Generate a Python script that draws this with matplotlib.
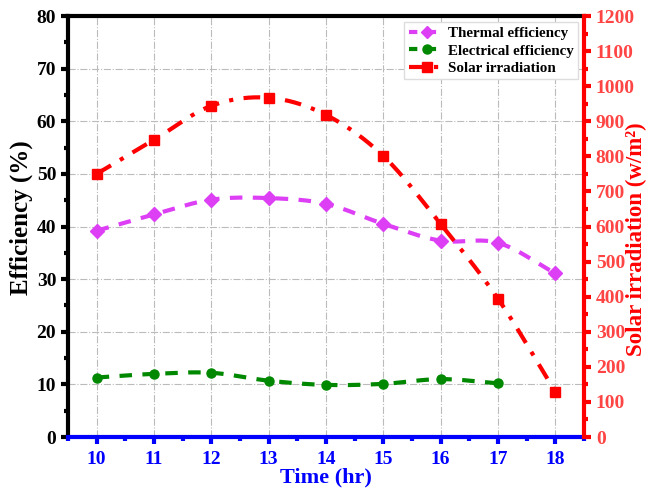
import numpy as np
import matplotlib
matplotlib.use("Agg")
import matplotlib.pyplot as plt
from matplotlib.ticker import MultipleLocator
from matplotlib.lines import Line2D

hours = [10, 11, 12, 13, 14, 15, 16, 17, 18]
thermal = [39.2, 42.3, 45.1, 45.4, 44.3, 40.5, 37.3, 36.9, 31.1]
elec_hours = [10, 11, 12, 13, 14, 15, 16, 17]
electrical = [11.3, 12.0, 12.2, 10.7, 9.9, 10.1, 11.0, 10.2]
solar = [750, 847, 944, 967, 918, 801, 607, 394, 129]

plt.rcParams['font.family'] = ['Liberation Serif', 'DejaVu Serif']
plt.rcParams['font.weight'] = 'bold'


def smooth(x, y, n=20):
    # Catmull-Rom spline through the given points, for drawing the curve only
    x = np.asarray(x, float)
    y = np.asarray(y, float)
    px = np.concatenate([[2 * x[0] - x[1]], x, [2 * x[-1] - x[-2]]])
    py = np.concatenate([[2 * y[0] - y[1]], y, [2 * y[-1] - y[-2]]])
    xs, ys = [], []
    t = np.linspace(0, 1, n, endpoint=False)
    for i in range(1, len(px) - 2):
        for arr, out in ((px, xs), (py, ys)):
            p0, p1, p2, p3 = arr[i - 1], arr[i], arr[i + 1], arr[i + 2]
            out.extend(0.5 * ((2 * p1) + (-p0 + p2) * t
                              + (2 * p0 - 5 * p1 + 4 * p2 - p3) * t ** 2
                              + (-p0 + 3 * p1 - 3 * p2 + p3) * t ** 3))
    xs.append(x[-1]); ys.append(y[-1])
    return np.array(xs), np.array(ys)


fig = plt.figure(figsize=(6.51, 4.91), dpi=100)
ax = fig.add_axes([68 / 651, 1 - 437 / 491, (584 - 68) / 651, (437 - 16) / 491])
ax2 = ax.twinx()

mag = '#DD3FF5'
grn = '#008800'
red = '#FF0000'

sx, sy = smooth(hours, thermal)
ax.plot(sx, sy, color=mag, lw=3, ls=(0, (3, 2.5)), zorder=3)
ax.plot(hours, thermal, ls='none', marker='D', ms=7, color=mag, zorder=4)
sx, sy = smooth(elec_hours, electrical)
ax.plot(sx, sy, color=grn, lw=3, ls=(0, (3, 2.5)), zorder=3)
ax.plot(elec_hours, electrical, ls='none', marker='o', ms=6.5, color=grn, zorder=4)
sx, sy = smooth(hours, solar)
ax2.plot(sx, sy, color=red, lw=3, ls=(0, (4, 2.5, 1, 2.5)), zorder=3)
ax2.plot(hours, solar, ls='none', marker='s', ms=7, color=red, zorder=4)

handles = [
    Line2D([], [], color=mag, lw=3, ls=(0, (2, 2.5)), marker='D', ms=6.5),
    Line2D([], [], color=grn, lw=3, ls=(0, (2, 2.5)), marker='o', ms=6.5),
    Line2D([], [], color=red, lw=3, ls=(0, (4, 2, 1, 2)), marker='s', ms=6.5),
]
leg = ax2.legend(handles, ['Thermal efficiency', 'Electrical efficiency', 'Solar irradiation'],
                 loc='upper right', bbox_to_anchor=(0.988, 0.985), fancybox=False,
                 framealpha=1, edgecolor='#dddddd', prop={'weight': 'bold', 'size': 10.8},
                 handlelength=2.4, handletextpad=0.2, borderpad=0.3, labelspacing=0.25,
                 borderaxespad=0.0)

ax.set_xlim(9.5, 18.5)
ax.set_ylim(0, 80)
ax2.set_ylim(0, 1200)
ax.set_xticks(hours)
ax.xaxis.set_minor_locator(MultipleLocator(0.5))
ax.yaxis.set_major_locator(MultipleLocator(10))
ax.yaxis.set_minor_locator(MultipleLocator(5))
ax2.yaxis.set_major_locator(MultipleLocator(100))
ax2.yaxis.set_minor_locator(MultipleLocator(50))

ax.grid(True, which='major', color='#bbbbbb', ls='-.', lw=0.8)
ax.set_axisbelow(True)

for s in ['left', 'top']:
    ax.spines[s].set_linewidth(3)
    ax.spines[s].set_color('black')
ax.spines['bottom'].set_linewidth(3)
ax.spines['bottom'].set_color('blue')
ax.spines['right'].set_visible(False)
ax2.spines['right'].set_linewidth(3)
ax2.spines['right'].set_color(red)
ax2.spines['left'].set_visible(False)
ax2.spines['top'].set_visible(False)
ax2.spines['bottom'].set_visible(False)

ax.tick_params(axis='y', which='major', direction='out', length=5, width=3, colors='black',
               labelsize=14)
ax.tick_params(axis='y', which='minor', direction='out', length=3, width=3, colors='black')
ax.tick_params(axis='x', which='major', direction='out', length=5, width=3, colors='blue',
               labelsize=14, pad=5)
ax.tick_params(axis='x', which='minor', direction='out', length=3, width=3, colors='blue')
ax2.tick_params(axis='y', which='major', direction='out', length=5, width=3, colors=red,
                labelsize=14)
ax2.tick_params(axis='y', which='minor', direction='out', length=3, width=3, colors=red)
for lab in ax2.get_yticklabels():
    lab.set_color('#FF4444')

ax.set_xlabel('Time (hr)', fontsize=16, fontweight='bold', color='blue', labelpad=0)
ax.set_ylabel('Efficiency (%)', fontsize=18, fontweight='bold', color='black')
ax.yaxis.set_label_coords(-0.068, 0.52)
ax2.set_ylabel('Solar irradiation (w/m\u00b2)', fontsize=16.5, fontweight='bold',
               color=red)
ax2.yaxis.set_label_coords(1.082, 0.47)

fig.savefig('out.png', dpi=100)
